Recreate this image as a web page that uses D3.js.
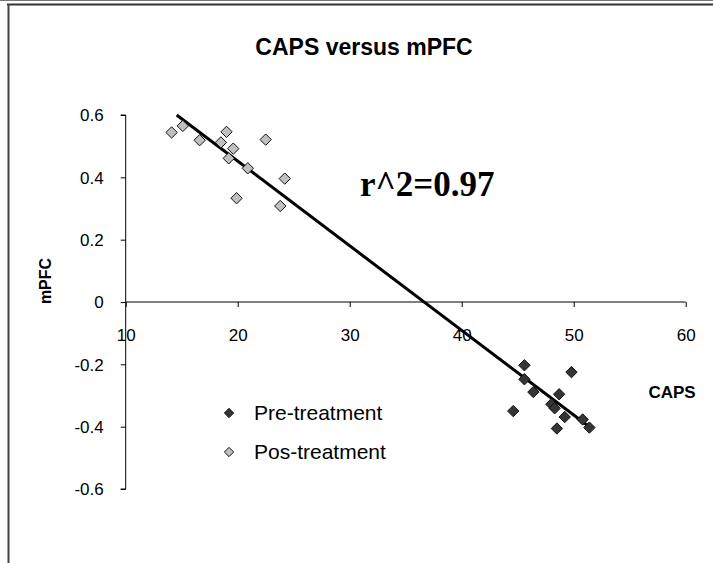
<!DOCTYPE html>
<html>
<head>
<meta charset="utf-8">
<script src="https://cdn.jsdelivr.net/npm/d3@7"></script>
<style>
  body { margin: 0; background: #fff; }
  svg text { font-family: "Liberation Sans", Arial, sans-serif; }
</style>
</head>
<body>
<div id="chart"></div>
<script>
/* values */
var preCaps = [45.6, 49.8, 45.6, 46.4, 48.7, 44.6, 48.0, 48.3, 49.2, 50.8, 51.4, 48.5];
var preMpfc = [-0.203, -0.225, -0.248, -0.289, -0.296, -0.350, -0.328, -0.341, -0.369, -0.377, -0.403, -0.406];
var posCaps = [14.1, 15.1, 16.6, 19.0, 18.5, 19.6, 19.2, 20.9, 22.5, 24.2, 19.9, 23.8];
var posMpfc = [0.544, 0.565, 0.519, 0.546, 0.512, 0.492, 0.461, 0.429, 0.521, 0.396, 0.333, 0.308];
var trendCaps = [14.55, 51.3];
var trendMpfc = [0.600, -0.398];
var xTicks = [10, 20, 30, 40, 50, 60];
var yTicks = [0.6, 0.4, 0.2, 0, -0.2, -0.4, -0.6];
var seriesNames = ["Pre-treatment", "Pos-treatment"];
var seriesFill = ["#353535", "#c0c0c0"];

var width = 713, height = 563;

var svg = d3.select("#chart").append("svg")
    .attr("width", width)
    .attr("height", height);

// frame around the chart (as in the Excel export)
svg.append("line").attr("x1", 0).attr("x2", width).attr("y1", 0.5).attr("y2", 0.5)
    .attr("stroke", "#777").attr("stroke-width", 1);
svg.append("line").attr("x1", 7).attr("x2", width).attr("y1", 4.5).attr("y2", 4.5)
    .attr("stroke", "#333").attr("stroke-width", 2);
svg.append("line").attr("x1", 8.5).attr("x2", 8.5).attr("y1", 4).attr("y2", height)
    .attr("stroke", "#444").attr("stroke-width", 2);

var x = d3.scaleLinear().domain([10, 60]).range([125.7, 685.7]);
var y = d3.scaleLinear().domain([-0.6, 0.6]).range([489, 115]);

// y axis
var yAxis = d3.axisLeft(y)
    .tickValues(yTicks)
    .tickSize(5)
    .tickFormat(function(d) { return d === 0 ? "0" : d3.format(".1f")(d).replace("\u2212", "-"); });

var gy = svg.append("g")
    .attr("transform", "translate(" + x(10) + ",0)")
    .call(yAxis);
gy.select(".domain").attr("d", "M-5," + y(0.6) + "H0V" + y(-0.6) + "H-5").attr("stroke", "#000");
gy.selectAll("text")
    .attr("x", -22)
    .attr("dy", "0.35em")
    .style("font-size", "17px")
    .attr("fill", "#000");

// x axis drawn on the zero line
var xAxis = d3.axisBottom(x)
    .tickValues(xTicks)
    .tickSize(5)
    .tickFormat(d3.format("d"));

var gx = svg.append("g")
    .attr("transform", "translate(0," + y(0) + ")")
    .call(xAxis);
gx.select(".domain").attr("d", "M" + x(10) + ",0H" + x(60)).attr("stroke", "#000");
gx.selectAll("text")
    .attr("y", 33)
    .attr("dy", "0.35em")
    .style("font-size", "17px")
    .attr("fill", "#000");

// trend line
svg.append("line")
    .attr("x1", x(trendCaps[0])).attr("y1", y(trendMpfc[0]))
    .attr("x2", x(trendCaps[1])).attr("y2", y(trendMpfc[1]))
    .attr("stroke", "#000")
    .attr("stroke-width", 3);

// markers
var diamond = d3.symbol().type(d3.symbolDiamond2).size(82);
var series = [
    {caps: preCaps, mpfc: preMpfc, fill: seriesFill[0]},
    {caps: posCaps, mpfc: posMpfc, fill: seriesFill[1]}
];
series.forEach(function(s) {
    svg.append("g").selectAll("path")
        .data(s.caps)
        .enter()
        .append("path")
        .attr("d", diamond)
        .attr("transform", function(d, i) { return "translate(" + x(d) + "," + y(s.mpfc[i]) + ")"; })
        .attr("fill", s.fill)
        .attr("stroke", "#111")
        .attr("stroke-width", 1);
});

// legend
var legend = svg.append("g").selectAll("g")
    .data(seriesNames)
    .enter()
    .append("g")
    .attr("transform", function(d, i) { return "translate(229," + (413 + i * 39) + ")"; });
legend.append("path")
    .attr("d", d3.symbol().type(d3.symbolDiamond2).size(55))
    .attr("fill", function(d, i) { return seriesFill[i]; })
    .attr("stroke", "#111");
legend.append("text")
    .attr("x", 25)
    .attr("dy", "0.35em")
    .style("font-size", "21px")
    .text(function(d) { return d; });

// titles
svg.append("text")
    .attr("x", 364).attr("y", 55)
    .attr("text-anchor", "middle")
    .style("font-size", "23px").style("font-weight", "bold")
    .text("CAPS versus mPFC");

svg.append("text")
    .attr("transform", "translate(51,281) rotate(-90)")
    .attr("text-anchor", "middle")
    .style("font-size", "16px").style("font-weight", "bold")
    .text("mPFC");

svg.append("text")
    .attr("x", 672).attr("y", 398)
    .attr("text-anchor", "middle")
    .style("font-size", "17px").style("font-weight", "bold")
    .text("CAPS");

svg.append("text")
    .attr("x", 360).attr("y", 196)
    .style("font-family", "'Liberation Serif', 'Times New Roman', serif")
    .style("font-size", "35px").style("font-weight", "bold")
    .text("r^2=0.97");
</script>
</body>
</html>
